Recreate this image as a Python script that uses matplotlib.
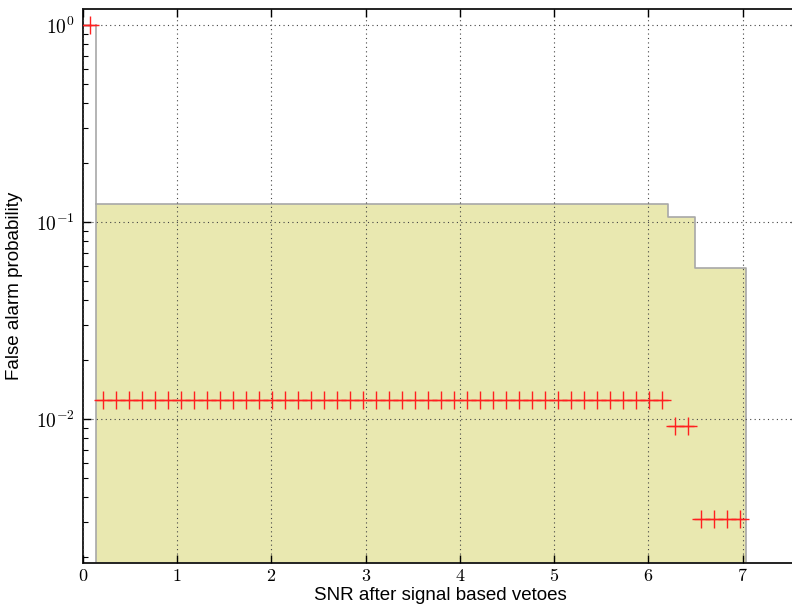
import matplotlib
matplotlib.use("Agg")
import matplotlib.pyplot as plt
from matplotlib import font_manager
from matplotlib.ticker import FuncFormatter, LogLocator
import numpy as np

# Per-bin false alarm probability, binned in SNR
snr_edges_lo = 0.0
snr_edges_hi = 7.04
n_bins = 51
fap = [1.0,
       0.0125, 0.0125, 0.0125, 0.0125, 0.0125, 0.0125, 0.0125, 0.0125, 0.0125, 0.0125, 0.0125,
       0.0125, 0.0125, 0.0125, 0.0125, 0.0125, 0.0125, 0.0125, 0.0125, 0.0125, 0.0125, 0.0125,
       0.0125, 0.0125, 0.0125, 0.0125, 0.0125, 0.0125, 0.0125, 0.0125, 0.0125, 0.0125, 0.0125,
       0.0125, 0.0125, 0.0125, 0.0125, 0.0125, 0.0125, 0.0125, 0.0125, 0.0125, 0.0125, 0.0125,
       0.0092, 0.0092,
       0.0031, 0.0031, 0.0031, 0.0031]

# Cumulative false alarm probability (step outline)
cum_edges = [0.138, 6.21, 6.49, 7.04]
cum_fap = [0.123, 0.106, 0.0584]
cum_top = 1.0

x_ticks = [0, 1, 2, 3, 4, 5, 6, 7]

plt.rcParams['mathtext.fontset'] = 'cm'
avail = {f.name for f in font_manager.fontManager.ttflist}
label_font = 'Liberation Sans Narrow' if 'Liberation Sans Narrow' in avail else 'Liberation Sans'

fig = plt.figure(figsize=(7.92, 6.05), dpi=100)
W, H = 792, 605
xmax = 7.6
px_per_unit = 94.24
x0 = 83
x1 = x0 + xmax * px_per_unit
y_top, y_bot = 8.5, 563
ax = fig.add_axes([x0 / W, (H - y_bot) / H, (x1 - x0) / W, (y_bot - y_top) / H])

ax.set_yscale('log')
ymin, ymax = 0.00186, 1.213
ax.set_xlim(0, xmax)
ax.set_ylim(ymin, ymax)
floor = ymin * 0.5

# cumulative fill with grey outline
fx = np.array(cum_edges)
fy = np.array(cum_fap + [cum_fap[-1]])
ax.fill_between(fx, floor, fy, step='post', facecolor='#e9e8b0', edgecolor='none', zorder=1)
ax.plot([cum_edges[0], cum_edges[0]], [floor, cum_top], color='#a8a8a8', lw=1.2, zorder=2)
sx, sy = [], []
for i, v in enumerate(cum_fap):
    sx += [cum_edges[i], cum_edges[i + 1]]
    sy += [v, v]
sx.append(cum_edges[-1]); sy.append(floor)
ax.plot(sx, sy, color='#a8a8a8', lw=1.2, zorder=2)

# per-bin points with bin-width bars
edges = np.linspace(snr_edges_lo, snr_edges_hi, n_bins + 1)
centers = 0.5 * (edges[:-1] + edges[1:])
half = 0.5 * (edges[1] - edges[0])
ax.errorbar(centers, fap, xerr=half, fmt='+', color='#ff2020', ecolor='#ff2020',
            ms=13, mew=1.0, elinewidth=1.0, capsize=0, zorder=4)

# grid and ticks
ax.grid(True, which='major', color='#444444', linestyle=(0, (1, 3)), linewidth=0.8)
ax.set_axisbelow(False)
for s in ax.spines.values():
    s.set_linewidth(1.4)
    s.set_color('#222222')
ax.tick_params(which='both', direction='in', top=True, right=True)
ax.tick_params(which='major', length=6, width=1.0)
ax.tick_params(which='minor', length=3.5, width=0.8)
ax.set_xticks(x_ticks)
ax.set_xticklabels([r'$\mathbf{%d}$' % i for i in x_ticks], fontsize=13)
ax.yaxis.set_major_locator(LogLocator(base=10))
ax.yaxis.set_major_formatter(FuncFormatter(lambda v, p: r'$10^{%d}$' % int(round(np.log10(v)))))
ax.tick_params(axis='y', labelsize=14, pad=6)
ax.tick_params(axis='x', pad=3)

ax.set_xlabel('SNR after signal based vetoes', fontsize=13.5, family=label_font)
ax.xaxis.set_label_coords((440 - x0) / (x1 - x0), (y_bot - 587) / (y_bot - y_top))
ax.set_ylabel('False alarm probability', fontsize=13.5, family=label_font)
ax.yaxis.set_label_coords((23 - x0) / (x1 - x0), 0.5)

fig.savefig('out.png', dpi=100)
